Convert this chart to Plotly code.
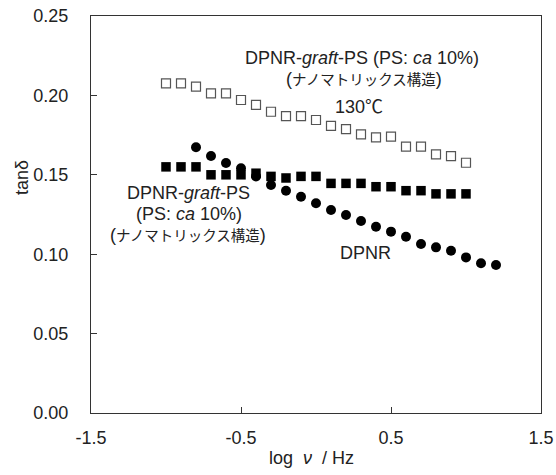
import plotly.graph_objects as go

# log frequency values
x_open = [-1.0, -0.9, -0.8, -0.7, -0.6, -0.5, -0.4, -0.3, -0.2, -0.1, 0.0,
          0.1, 0.2, 0.3, 0.4, 0.5, 0.6, 0.7, 0.8, 0.9, 1.0]
y_open = [0.2076, 0.2076, 0.2055, 0.2013, 0.2013, 0.1971, 0.1940, 0.1897, 0.1870, 0.1870, 0.1845,
          0.1808, 0.1787, 0.1755, 0.1736, 0.1740, 0.1677, 0.1677, 0.1629, 0.1618, 0.1576]

x_fsq = [-1.0, -0.9, -0.8, -0.7, -0.6, -0.5, -0.4, -0.3, -0.2, -0.1, 0.0,
         0.1, 0.2, 0.3, 0.4, 0.5, 0.6, 0.7, 0.8, 0.9, 1.0]
y_fsq = [0.155, 0.155, 0.155, 0.150, 0.150, 0.150, 0.151, 0.149, 0.148, 0.149, 0.149,
         0.1446, 0.1446, 0.1446, 0.1425, 0.1425, 0.140, 0.140, 0.138, 0.138, 0.138]

x_circ = [-0.8, -0.7, -0.6, -0.5, -0.4, -0.3, -0.2, -0.1, 0.0, 0.1, 0.2,
          0.3, 0.4, 0.5, 0.6, 0.7, 0.8, 0.9, 1.0, 1.1, 1.2]
y_circ = [0.1673, 0.1618, 0.1574, 0.1541, 0.149, 0.1436, 0.140, 0.1362, 0.1321, 0.1278, 0.1247,
          0.1209, 0.1173, 0.1142, 0.1110, 0.1064, 0.1043, 0.1022, 0.0980, 0.0943, 0.0932]

x_ticks = [-1.5, -0.5, 0.5, 1.5]
x_ticktext = ["-1.5", "-0.5", "0.5", "1.5"]
y_ticks = [0.0, 0.05, 0.10, 0.15, 0.20, 0.25]
y_ticktext = ["0.00", "0.05", "0.10", "0.15", "0.20", "0.25"]

FONT = "Liberation Sans, Arial, Noto Sans CJK JP, sans-serif"
TXT = "#222222"
W, H = 556, 475
ML, MR, MT, MB = 91, 15, 16, 62

fig = go.Figure()
fig.add_trace(go.Scatter(x=x_open, y=y_open, mode="markers",
                         marker=dict(symbol="square-open", size=9, color="#555555",
                                     line=dict(width=1.2, color="#555555"))))
fig.add_trace(go.Scatter(x=x_circ, y=y_circ, mode="markers",
                         marker=dict(symbol="circle", size=10, color="black")))
fig.add_trace(go.Scatter(x=x_fsq, y=y_fsq, mode="markers",
                         marker=dict(symbol="square", size=9.5, color="black")))

axis_common = dict(showgrid=False, zeroline=False, showline=True, linecolor="#333333",
                   linewidth=1.3, mirror=True, ticks="inside", ticklen=6, tickwidth=1.2,
                   tickcolor="#333333", automargin=False,
                   tickfont=dict(size=18, color=TXT, family=FONT))

fig.update_xaxes(range=[-1.5, 1.5], tickvals=x_ticks, ticktext=x_ticktext,
                 ticklabelstandoff=8, **axis_common)
fig.update_yaxes(range=[0, 0.25], tickvals=y_ticks, ticktext=y_ticktext,
                 ticklabelstandoff=18, **axis_common)

JP = '<span style="font-size:14.5px">ナノマトリックス構造</span>'
ann_font = dict(size=18, color=TXT, family=FONT)
annotations = [
    dict(x=362, y=58, text="DPNR-<i>graft</i>-PS (PS: <i>ca</i> 10%)"),
    dict(x=364, y=79, text="(" + JP + ")"),
    dict(x=359, y=107, text="130℃"),
    dict(x=188, y=193, text="DPNR-<i>graft</i>-PS"),
    dict(x=189, y=214, text="(PS: <i>ca</i> 10%)"),
    dict(x=188, y=235, text="(" + JP + ")"),
    dict(x=365, y=253, text="DPNR"),
    dict(x=311, y=458, text="log&nbsp;&nbsp;<i>ν</i>&nbsp;&nbsp;/&nbsp;Hz"),
]
pl, pr, pt, pb = ML, W - MR, MT, H - MB
for a in annotations:
    fig.add_annotation(x=(a["x"] - pl) / (pr - pl), y=(pb - a["y"]) / (pb - pt),
                       xref="paper", yref="paper", text=a["text"], showarrow=False,
                       font=ann_font, xanchor="center", yanchor="middle")

# y axis title placed like the reference
fig.add_annotation(x=(22 - pl) / (pr - pl), y=(pb - 178) / (pb - pt), xref="paper", yref="paper",
                   text="tanδ", textangle=-90, showarrow=False, font=ann_font,
                   xanchor="center", yanchor="middle")

fig.update_layout(width=W, height=H, margin=dict(l=ML, r=MR, t=MT, b=MB),
                  paper_bgcolor="white", plot_bgcolor="white", showlegend=False,
                  font=dict(family=FONT))
fig.write_html("out.html")
